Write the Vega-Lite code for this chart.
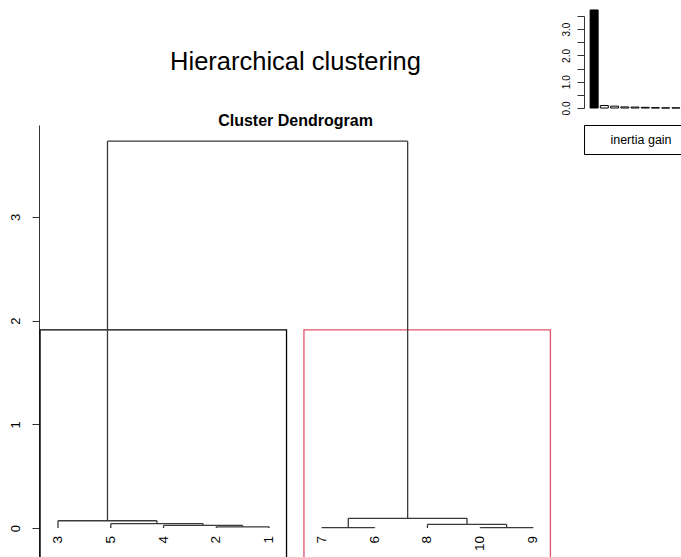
{
  "$schema": "https://vega.github.io/schema/vega-lite/v6.json",
  "background": "white",
  "padding": {"left": 9, "top": 9, "right": 0, "bottom": 0},
  "config": {"view": {"stroke": null}, "font": "Liberation Sans", "axis": {"labelFont": "Liberation Sans", "grid": false}},
  "datasets": {
    "merges": [
      {"m": 1, "xl": 4, "xr": 5, "hl": 0, "hr": 0, "h": 0.012},
      {"m": 2, "xl": 3, "xr": 4.5, "hl": 0, "hr": 0.012, "h": 0.025},
      {"m": 3, "xl": 2, "xr": 3.75, "hl": 0, "hr": 0.025, "h": 0.042},
      {"m": 4, "xl": 1, "xr": 2.875, "hl": 0, "hr": 0.042, "h": 0.07},
      {"m": 5, "xl": 6, "xr": 7, "hl": 0, "hr": 0, "h": 0.004},
      {"m": 6, "xl": 9, "xr": 10, "hl": 0, "hr": 0, "h": 0.004},
      {"m": 7, "xl": 8, "xr": 9.5, "hl": 0, "hr": 0.004, "h": 0.036},
      {"m": 8, "xl": 6.5, "xr": 8.75, "hl": 0.004, "hr": 0.036, "h": 0.094},
      {"m": 9, "xl": 1.9375, "xr": 7.625, "hl": 0.07, "hr": 0.094, "h": 3.73}
    ],
    "leaves": [
      {"leaf": "3", "pos": 1}, {"leaf": "5", "pos": 2}, {"leaf": "4", "pos": 3},
      {"leaf": "2", "pos": 4}, {"leaf": "1", "pos": 5}, {"leaf": "7", "pos": 6},
      {"leaf": "6", "pos": 7}, {"leaf": "8", "pos": 8}, {"leaf": "10", "pos": 9},
      {"leaf": "9", "pos": 10}
    ],
    "clusters": [
      {"cluster": 1, "x0": 0.66, "x1": 5.33, "top": 1.91},
      {"cluster": 2, "x0": 5.66, "x1": 10.33, "top": 1.91}
    ],
    "gain": [
      {"rank": 1, "gain": 3.73}, {"rank": 2, "gain": 0.095}, {"rank": 3, "gain": 0.07},
      {"rank": 4, "gain": 0.042}, {"rank": 5, "gain": 0.036}, {"rank": 6, "gain": 0.025},
      {"rank": 7, "gain": 0.012}, {"rank": 8, "gain": 0.004}, {"rank": 9, "gain": 0.004}
    ]
  },
  "columns": 2,
  "bounds": "flush",
  "spacing": {"row": 17, "column": 32},
  "concat": [
    {
      "width": 513,
      "height": 92,
      "data": {"values": [{"title": "Hierarchical clustering"}]},
      "mark": {"type": "text", "fontSize": 25.5, "font": "Liberation Sans", "color": "#000", "baseline": "middle", "align": "center"},
      "encoding": {"text": {"field": "title"}}
    },
    {
      "width": 115,
      "height": 92,
      "data": {"name": "gain"},
      "mark": {"type": "bar", "width": 8, "stroke": "#000", "strokeWidth": 1},
      "encoding": {
        "x": {"field": "rank", "type": "quantitative", "scale": {"domain": [0.5, 10.77], "nice": false, "zero": false}, "axis": null},
        "y": {"field": "gain", "type": "quantitative", "scale": {"domain": [0, 3.5], "nice": false},
          "axis": {"values": [0, 0.5, 1, 1.5, 2, 2.5, 3, 3.5], "labelExpr": "datum.value % 1 === 0 ? format(datum.value, '.1f') : ''", "labelAngle": 270, "tickSize": 7, "labelPadding": 6, "labelFontSize": 10, "labelColor": "#000", "domainColor": "#333", "tickColor": "#333", "title": null, "labelOverlap": false}},
        "fill": {"condition": {"test": "datum.rank === 1", "value": "#000"}, "value": "#fff"}
      }
    },
    {
      "width": 513,
      "height": 433,
      "title": {
        "text": "Cluster Dendrogram",
        "font": "Liberation Sans",
        "fontSize": 16,
        "fontWeight": "bold",
        "color": "#000",
        "offset": -4,
        "anchor": "middle",
        "frame": "group"
      },
      "layer": [
        {
          "data": {"name": "clusters"},
          "mark": {"type": "rect", "filled": false, "clip": true, "strokeWidth": 1.3},
          "encoding": {
            "x": {"field": "x0", "type": "quantitative", "scale": {"domain": [0.64, 10.36], "nice": false, "zero": false}, "axis": null},
            "x2": {"field": "x1"},
            "y": {"field": "top", "type": "quantitative", "scale": {"domain": [-0.289, 3.886], "nice": false, "zero": false},
              "axis": {"values": [0, 1, 2, 3], "format": "d", "labelAngle": 270, "tickSize": 7, "labelPadding": 10, "labelFontSize": 13, "labelColor": "#000", "domainColor": "#333", "tickColor": "#333", "title": null}},
            "y2": {"datum": -0.5},
            "stroke": {"field": "cluster", "type": "nominal", "scale": {"domain": [1, 2], "range": ["#000000", "#DF536B"]}, "legend": null}
          }
        },
        {
          "data": {"name": "merges"},
          "mark": {"type": "rule", "color": "#3a3a3a", "strokeWidth": 1.3},
          "encoding": {
            "x": {"field": "xl", "type": "quantitative"},
            "x2": {"field": "xr"},
            "y": {"field": "h", "type": "quantitative"}
          }
        },
        {
          "data": {"name": "merges"},
          "mark": {"type": "rule", "color": "#3a3a3a", "strokeWidth": 1.3},
          "encoding": {
            "x": {"field": "xl", "type": "quantitative"},
            "y": {"field": "hl", "type": "quantitative"},
            "y2": {"field": "h"}
          }
        },
        {
          "data": {"name": "merges"},
          "mark": {"type": "rule", "color": "#3a3a3a", "strokeWidth": 1.3},
          "encoding": {
            "x": {"field": "xr", "type": "quantitative"},
            "y": {"field": "hr", "type": "quantitative"},
            "y2": {"field": "h"}
          }
        },
        {
          "data": {"name": "leaves"},
          "mark": {"type": "text", "angle": 270, "align": "right", "baseline": "middle", "dx": -8, "fontSize": 13.5, "color": "#000", "font": "Liberation Sans"},
          "encoding": {
            "x": {"field": "pos", "type": "quantitative"},
            "y": {"datum": 0},
            "text": {"field": "leaf"}
          }
        }
      ]
    },
    {
      "width": 114,
      "height": 29,
      "view": {"stroke": "#000", "strokeWidth": 1},
      "data": {"values": [{"label": "inertia gain"}]},
      "mark": {"type": "text", "fontSize": 12.5, "font": "Liberation Sans", "color": "#000"},
      "encoding": {"text": {"field": "label"}}
    }
  ]
}
